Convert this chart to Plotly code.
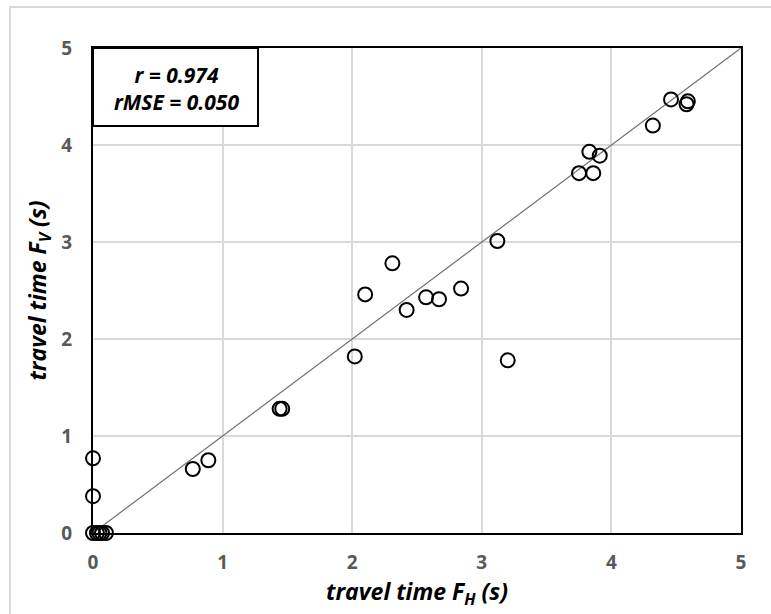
import plotly.graph_objects as go

# travel times (s): horizontal method F_H vs vertical method F_V
fh = [0.00, 0.00, 0.00, 0.03, 0.05, 0.07, 0.10,
      0.77, 0.89, 1.44, 1.46, 2.02, 2.10, 2.31, 2.42, 2.57, 2.67, 2.84,
      3.12, 3.20, 3.75, 3.83, 3.86, 3.91, 4.32, 4.46, 4.58, 4.59]
fv = [0.77, 0.38, 0.00, 0.00, 0.00, 0.00, 0.00,
      0.66, 0.75, 1.28, 1.28, 1.82, 2.46, 2.78, 2.30, 2.43, 2.41, 2.52,
      3.01, 1.78, 3.71, 3.93, 3.71, 3.89, 4.20, 4.47, 4.42, 4.45]

stats_text = "r = 0.974<br>rMSE = 0.050"
axis_ticks = [0, 1, 2, 3, 4, 5]

W, H = 771, 614
L, R, T, B = 93, 30, 48, 81
PW, PH = W - L - R, H - T - B

FONT = "Open Sans, Liberation Sans, sans-serif"

fig = go.Figure()

# 1:1 reference line
fig.add_trace(go.Scatter(
    x=[0, 5], y=[0, 5], mode="lines",
    line=dict(color="#707070", width=1.2),
    hoverinfo="skip", showlegend=False,
))

fig.add_trace(go.Scatter(
    x=fh, y=fv, mode="markers", cliponaxis=False,
    marker=dict(symbol="circle-open", size=14, color="black",
                line=dict(color="black", width=2)),
    showlegend=False,
))

tick_font = dict(family=FONT, size=19, color="#595959", weight="bold")
title_font = dict(family=FONT, size=23, color="black", weight="bold",
                  style="italic")

common = dict(
    range=[0, 5], tickvals=axis_ticks, showgrid=True, gridcolor="#d9d9d9",
    gridwidth=2, zeroline=False, showline=True, linecolor="black",
    linewidth=2, mirror=True, ticks="", tickfont=tick_font,
)
fig.update_xaxes(
    **common, ticklabelstandoff=11,
    title=dict(text="travel time F<sub>H</sub> (s)", font=title_font,
               standoff=6),
)
fig.update_yaxes(
    **common, ticklabelstandoff=15,
    title=dict(text="travel time F<sub>V</sub> (s)", font=title_font,
               standoff=8),
)

# statistics box in the upper-left corner
fig.add_shape(type="rect", xref="paper", yref="paper",
              x0=0, x1=165 / PW, y0=1 - 78 / PH, y1=1,
              line=dict(color="black", width=2), fillcolor="white", layer="above")
fig.add_annotation(
    xref="paper", yref="paper", x=83 / PW, y=1 - 40 / PH,
    xanchor="center", yanchor="middle",
    text=stats_text, showarrow=False, align="center",
    font=dict(family=FONT, size=21, color="black", weight="bold",
              style="italic"),
)

# light chart-area frame
fig.add_shape(type="rect", xref="paper", yref="paper",
              x0=(10 - L) / PW, x1=(W + 5 - L) / PW,
              y0=-(B + 5) / PH, y1=1 + (T - 7) / PH,
              line=dict(color="#d9d9d9", width=2), fillcolor="rgba(0,0,0,0)")

fig.update_layout(
    width=W, height=H, margin=dict(l=L, r=R, t=T, b=B),
    plot_bgcolor="white", paper_bgcolor="white",
)

fig.write_html("out.html")
